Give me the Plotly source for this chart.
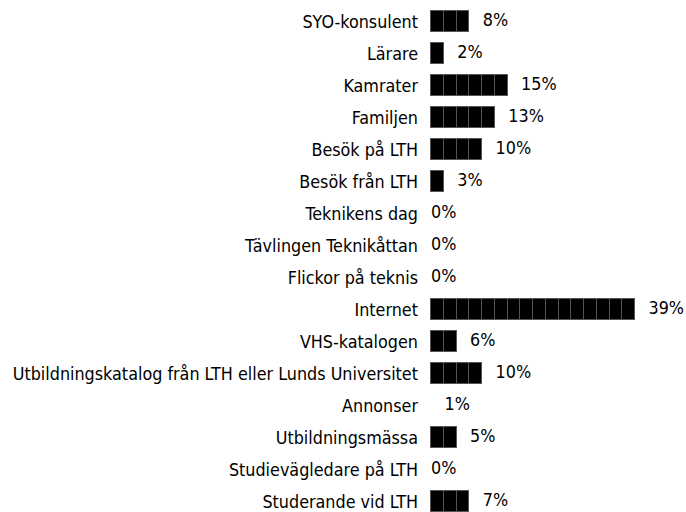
import plotly.graph_objects as go

categories = [
    "SYO-konsulent", "Lärare", "Kamrater", "Familjen", "Besök på LTH",
    "Besök från LTH", "Teknikens dag", "Tävlingen Teknikåttan",
    "Flickor på teknis", "Internet", "VHS-katalogen",
    "Utbildningskatalog från LTH eller Lunds Universitet", "Annonser",
    "Utbildningsmässa", "Studievägledare på LTH", "Studerande vid LTH",
]
values = [8, 2, 15, 13, 10, 3, 0, 0, 0, 39, 6, 10, 1, 5, 0, 7]
unit = 2.5  # percent per block

FONT = "DejaVu Sans Condensed, Liberation Sans, sans-serif"
FSIZE = 17.8
blocks = [int(round(v / unit)) for v in values]
ypos = list(range(len(categories)))

fig = go.Figure()
for k in range(max(blocks)):
    fig.add_trace(go.Bar(
        x=[unit if b > k else None for b in blocks],
        y=ypos, orientation="h", width=0.66,
        marker=dict(color="black", line=dict(color="#555555", width=1)),
        hoverinfo="skip", showlegend=False,
    ))

x_min, x_max = -1.0, 50.0
margin_l = 426
px_per_unit = (686 - margin_l) / (x_max - x_min)
offset = 13.5 / px_per_unit
text_x = [b * unit + offset if v > 0 else 0 for b, v in zip(blocks, values)]
fig.add_trace(go.Scatter(
    x=text_x, y=ypos, mode="text",
    text=[f"{v}%" for v in values], textposition="middle right",
    textfont=dict(family=FONT, size=FSIZE, color="black"),
    cliponaxis=False, hoverinfo="skip", showlegend=False,
))

fig.update_layout(
    width=686, height=512, barmode="stack", bargap=0,
    paper_bgcolor="white", plot_bgcolor="white",
    margin=dict(l=margin_l, r=0, t=0, b=0),
    font=dict(family=FONT, size=FSIZE, color="black"),
)
fig.update_xaxes(range=[x_min, x_max], visible=False, fixedrange=True)
fig.update_yaxes(
    range=[len(categories) - 0.672, -0.672], tickvals=ypos, ticktext=categories,
    ticks="", showgrid=False, zeroline=False, showline=False,
    ticklabelstandoff=7, ticklabeloverflow="allow", automargin=False, fixedrange=True,
    tickfont=dict(family=FONT, size=FSIZE, color="black"),
)
fig.write_html("out.html", config={"displayModeBar": False},
               post_script="document.body.style.margin='0';")
